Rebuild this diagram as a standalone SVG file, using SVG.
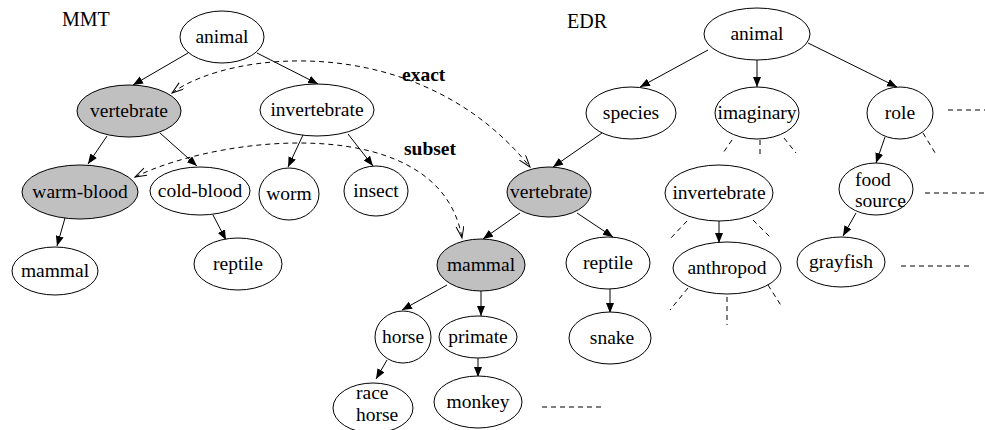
<svg xmlns="http://www.w3.org/2000/svg" width="985" height="430" viewBox="0 0 985 430">
<style>
.n ellipse{fill:#fff;stroke:#000;stroke-width:1}
.g ellipse{fill:#c0c0c0}
text{font-family:"Liberation Serif","Times New Roman",serif;font-size:19.5px;fill:#000}
.c{text-anchor:middle}
.b{font-weight:bold}
.e line{stroke:#000;stroke-width:1;marker-end:url(#ah)}
.d{fill:none;stroke:#000;stroke-width:1;stroke-dasharray:5 4}
</style>
<defs>
<marker id="ah" markerUnits="userSpaceOnUse" markerWidth="12" markerHeight="10" refX="10" refY="4" orient="auto">
<path d="M0,0 L10,4 L0,8 z" fill="#000" stroke="none"/>
</marker>
<marker id="oa" markerUnits="userSpaceOnUse" markerWidth="14" markerHeight="10" refX="12" refY="4" orient="auto-start-reverse">
<path d="M0,0 L12,4 L0,8" fill="none" stroke="#000" stroke-width="1" stroke-dasharray="none"/>
</marker>
</defs>
<text x="62" y="26" style="font-size:20px">MMT</text>
<text x="567" y="28" style="font-size:20px">EDR</text>
<g id="connectors">
<g class="e">
<line x1="188" y1="53" x2="133" y2="85"/>
<line x1="257" y1="53" x2="318" y2="84"/>
<line x1="107" y1="136" x2="88" y2="164"/>
<line x1="160" y1="133" x2="197" y2="166"/>
<line x1="303" y1="135" x2="288" y2="167"/>
<line x1="348" y1="134" x2="373" y2="166"/>
<line x1="65" y1="218" x2="57" y2="246"/>
<line x1="213" y1="215" x2="226" y2="240"/>
<line x1="708" y1="50" x2="640" y2="87"/>
<line x1="757" y1="60" x2="757" y2="87"/>
<line x1="808" y1="43" x2="897" y2="87"/>
<line x1="602" y1="133" x2="553" y2="167"/>
<line x1="520" y1="213" x2="483" y2="239"/>
<line x1="577" y1="213" x2="613" y2="237"/>
<line x1="610" y1="289" x2="610" y2="313"/>
<line x1="447" y1="285" x2="402" y2="310"/>
<line x1="481" y1="291" x2="481" y2="316"/>
<line x1="387" y1="360" x2="376" y2="379"/>
<line x1="478" y1="358" x2="478" y2="377"/>
<line x1="885" y1="137" x2="876" y2="163"/>
<line x1="856" y1="213" x2="843" y2="236"/>
<line x1="719" y1="221" x2="719" y2="243"/>
</g>
<path class="d" d="M172,93 C230,50 420,30 530,167" marker-start="url(#oa)" marker-end="url(#oa)"/>
<path class="d" d="M135,177 C220,135 440,110 462,238" marker-start="url(#oa)" marker-end="url(#oa)"/>
<g class="d">
<line x1="948" y1="110" x2="985" y2="110"/>
<line x1="925" y1="193" x2="985" y2="193"/>
<line x1="901" y1="266" x2="973" y2="266"/>
<line x1="542" y1="407" x2="604" y2="407"/>
<line x1="732" y1="140" x2="723" y2="153"/>
<line x1="760" y1="140" x2="760" y2="156"/>
<line x1="784" y1="138" x2="796" y2="153"/>
<line x1="923" y1="133" x2="937" y2="156"/>
<line x1="687" y1="221" x2="670" y2="239"/>
<line x1="753" y1="220" x2="771" y2="238"/>
<line x1="688" y1="288" x2="670" y2="310"/>
<line x1="727" y1="297" x2="727" y2="325"/>
<line x1="768" y1="285" x2="782" y2="307"/>
</g>
</g>
<text class="b" x="402" y="81">exact</text>
<text class="b" x="404" y="155">subset</text>
<g id="mmt-animal" class="n"><ellipse cx="222" cy="37" rx="42" ry="26"/><text class="c" x="222" y="43">animal</text></g>
<g id="mmt-vertebrate" class="n g"><ellipse cx="129" cy="111" rx="52" ry="26"/><text class="c" x="129" y="117">vertebrate</text></g>
<g id="mmt-invertebrate" class="n"><ellipse cx="317" cy="110" rx="57" ry="26"/><text class="c" x="317" y="116">invertebrate</text></g>
<g id="mmt-warm-blood" class="n g"><ellipse cx="80" cy="192" rx="58" ry="27"/><text class="c" x="80" y="198">warm-blood</text></g>
<g id="mmt-cold-blood" class="n"><ellipse cx="200" cy="191" rx="50" ry="24"/><text class="c" x="200" y="197">cold-blood</text></g>
<g id="mmt-worm" class="n"><ellipse cx="289" cy="194" rx="30" ry="26"/><text class="c" x="289" y="200">worm</text></g>
<g id="mmt-insect" class="n"><ellipse cx="376" cy="191" rx="32" ry="25"/><text class="c" x="376" y="197">insect</text></g>
<g id="mmt-mammal" class="n"><ellipse cx="55" cy="271" rx="43" ry="24"/><text class="c" x="55" y="277">mammal</text></g>
<g id="mmt-reptile" class="n"><ellipse cx="238" cy="264" rx="44" ry="26"/><text class="c" x="238" y="270">reptile</text></g>
<g id="edr-animal" class="n"><ellipse cx="757" cy="34" rx="53" ry="26"/><text class="c" x="757" y="40">animal</text></g>
<g id="edr-species" class="n"><ellipse cx="631" cy="113" rx="45" ry="26"/><text class="c" x="631" y="119">species</text></g>
<g id="edr-imaginary" class="n"><ellipse cx="757" cy="113" rx="42" ry="26"/><text class="c" x="757" y="119">imaginary</text></g>
<g id="edr-role" class="n"><ellipse cx="900" cy="113" rx="33" ry="26"/><text class="c" x="900" y="119">role</text></g>
<g id="edr-vertebrate" class="n g"><ellipse cx="549" cy="192" rx="42" ry="25"/><text class="c" x="549" y="198">vertebrate</text></g>
<g id="edr-invertebrate" class="n"><ellipse cx="719" cy="193" rx="54" ry="28"/><text class="c" x="719" y="199">invertebrate</text></g>
<g id="edr-food-source" class="n"><ellipse cx="876" cy="189" rx="37" ry="26"/><text x="855" y="186">food</text><text x="855" y="207">source</text></g>
<g id="edr-mammal" class="n g"><ellipse cx="481" cy="265" rx="44" ry="26"/><text class="c" x="481" y="271">mammal</text></g>
<g id="edr-reptile" class="n"><ellipse cx="608" cy="263" rx="42" ry="26"/><text class="c" x="608" y="269">reptile</text></g>
<g id="edr-anthropod" class="n"><ellipse cx="727" cy="268" rx="54" ry="26"/><text class="c" x="727" y="274">anthropod</text></g>
<g id="edr-grayfish" class="n"><ellipse cx="841" cy="262" rx="44" ry="25"/><text class="c" x="841" y="268">grayfish</text></g>
<g id="edr-horse" class="n"><ellipse cx="403" cy="337" rx="28" ry="26"/><text class="c" x="403" y="343">horse</text></g>
<g id="edr-primate" class="n"><ellipse cx="478" cy="337" rx="39" ry="21"/><text class="c" x="478" y="343">primate</text></g>
<g id="edr-snake" class="n"><ellipse cx="610" cy="338" rx="41" ry="26"/><text class="c" x="612" y="344">snake</text></g>
<g id="edr-race-horse" class="n"><ellipse cx="373" cy="408" rx="40" ry="25"/><text x="356" y="399">race</text><text x="356" y="421">horse</text></g>
<g id="edr-monkey" class="n"><ellipse cx="478" cy="402" rx="44" ry="26"/><text class="c" x="478" y="408">monkey</text></g>
</svg>
